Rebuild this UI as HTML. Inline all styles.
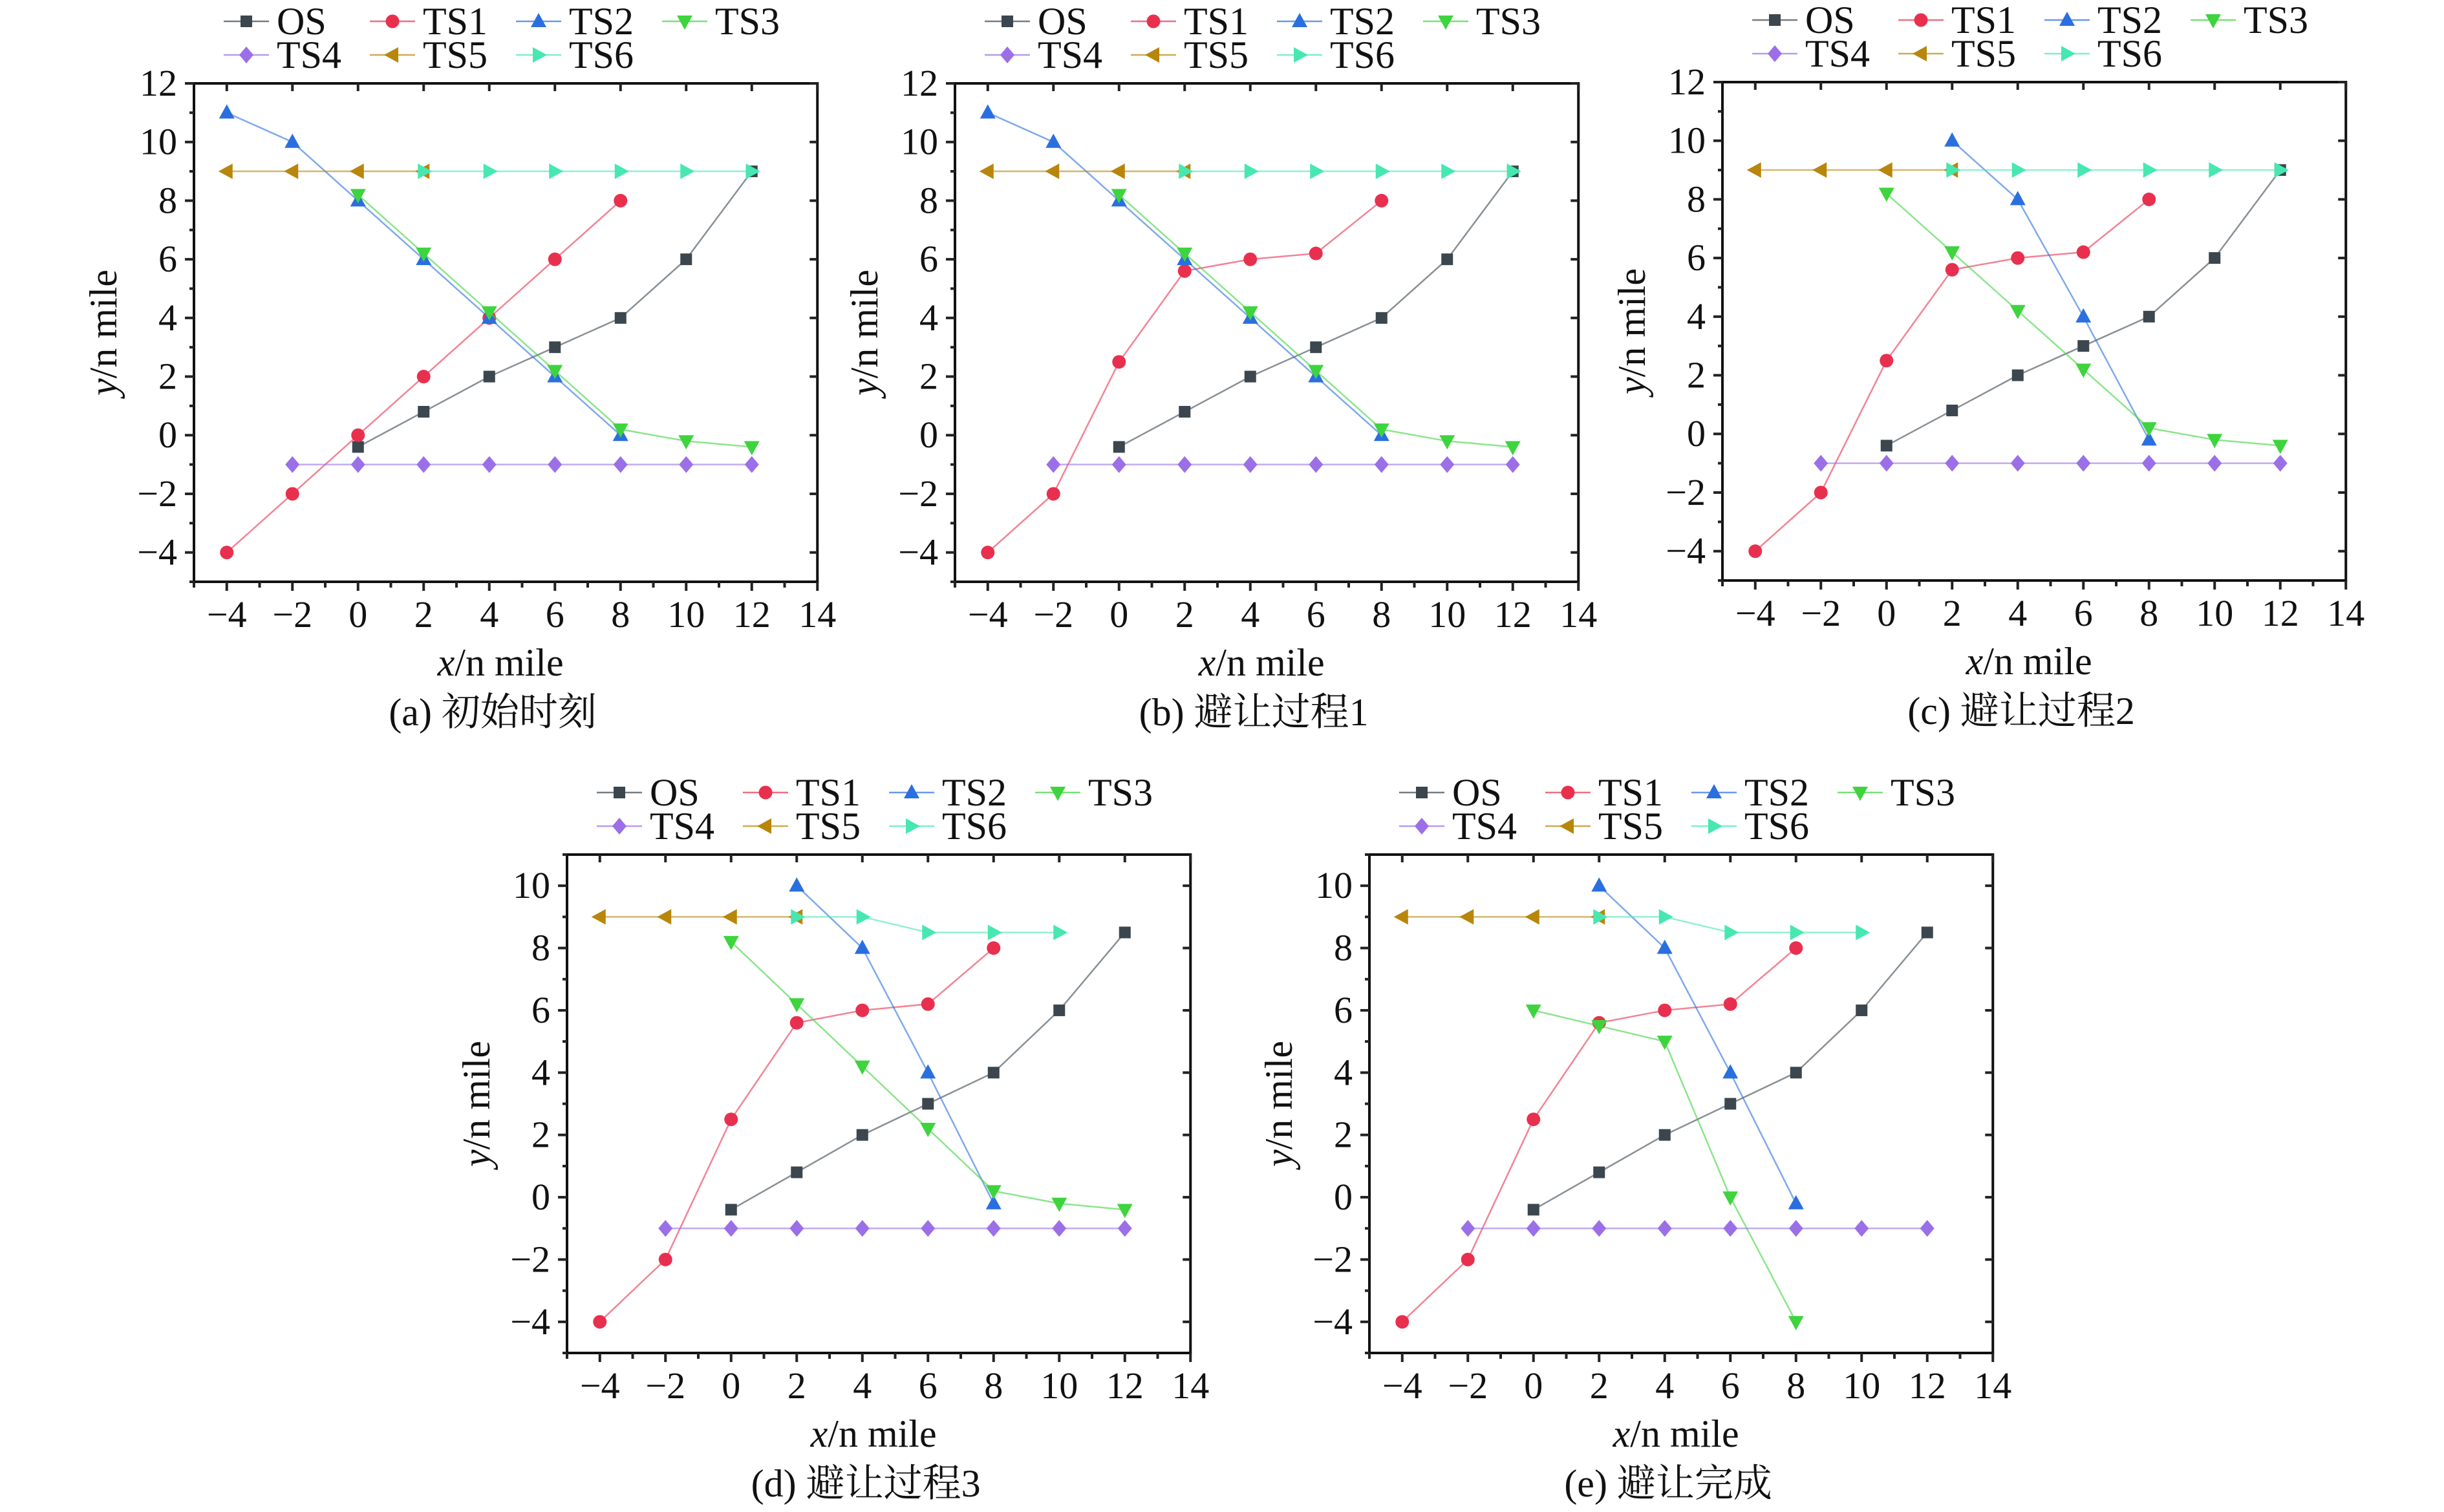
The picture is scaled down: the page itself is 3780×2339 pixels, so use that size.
<!DOCTYPE html>
<html><head><meta charset="utf-8">
<style>
html,body{margin:0;padding:0;background:#fff;}
svg, svg text{font-family:"Liberation Serif","Times New Roman","Noto Serif CJK SC",serif;}
</style></head>
<body>
<svg id="fig" width="3780" height="2334" viewBox="0 0 3780 2334" xmlns="http://www.w3.org/2000/svg" font-family="Liberation Serif, Times New Roman, Noto Serif CJK SC, serif"></svg>
<script>
// ---- data ----
const seriesNames = ["OS","TS1","TS2","TS3","TS4","TS5","TS6"];
const xTicks = [-4,-2,0,2,4,6,8,10,12,14];
const yTicksABC = [-4,-2,0,2,4,6,8,10,12];
const yTicksDE = [-4,-2,0,2,4,6,8,10];

// panel a
const aOS_x=[0,2,4,6,8,10,12], aOS_y=[-0.4,0.8,2,3,4,6,9];
const aTS1_x=[-4,-2,0,2,4,6,8], aTS1_y=[-4,-2,0,2,4,6,8];
const aTS2_x=[-4,-2,0,2,4,6,8], aTS2_y=[11,10,8,6,4,2,0];
const aTS3_x=[0,2,4,6,8,10,12], aTS3_y=[8.2,6.2,4.2,2.2,0.2,-0.2,-0.4];
const aTS4_x=[-2,0,2,4,6,8,10,12], aTS4_y=[-1,-1,-1,-1,-1,-1,-1,-1];
const aTS5_x=[-4,-2,0,2], aTS5_y=[9,9,9,9];
const aTS6_x=[2,4,6,8,10,12], aTS6_y=[9,9,9,9,9,9];
// panel b
const bTS1_y=[-4,-2,2.5,5.6,6,6.2,8];
// panel c
const cTS2_x=[2,4,6,8], cTS2_y=[10,8,4,-0.2];
// panel d
const dOS_y=[-0.4,0.8,2,3,4,6,8.5];
const dTS6_x=[2,4,6,8,10], dTS6_y=[9,9,8.5,8.5,8.5];
// panel e
const eTS3_x=[0,2,4,6,8], eTS3_y=[6,5.5,5,0,-4];

const colors=["#3b464e","#e8304e","#2a6fe0","#3ed43e","#9b6fe8","#b8860b","#46e8b0"];
const markers=["square","circle","up","down","diamond","left","right"];
const FONT="Liberation Serif, Times New Roman, Noto Serif CJK SC, serif";

const panels=[
 {id:"a",caption:"(a) 初始时刻",left:300,top:129,bottom:900,ymin:-5,ymax:12,yt:yTicksABC,
  s:[[aOS_x,aOS_y],[aTS1_x,aTS1_y],[aTS2_x,aTS2_y],[aTS3_x,aTS3_y],[aTS4_x,aTS4_y],[aTS5_x,aTS5_y],[aTS6_x,aTS6_y]]},
 {id:"b",caption:"(b) 避让过程1",left:1477,top:129,bottom:900,ymin:-5,ymax:12,yt:yTicksABC,
  s:[[aOS_x,aOS_y],[aTS1_x,bTS1_y],[aTS2_x,aTS2_y],[aTS3_x,aTS3_y],[aTS4_x,aTS4_y],[aTS5_x,aTS5_y],[aTS6_x,aTS6_y]]},
 {id:"c",caption:"(c) 避让过程2",left:2664,top:127,bottom:898,ymin:-5,ymax:12,yt:yTicksABC,
  s:[[aOS_x,aOS_y],[aTS1_x,bTS1_y],[cTS2_x,cTS2_y],[aTS3_x,aTS3_y],[aTS4_x,aTS4_y],[aTS5_x,aTS5_y],[aTS6_x,aTS6_y]]},
 {id:"d",caption:"(d) 避让过程3",left:877,top:1322,bottom:2093,ymin:-5,ymax:11,yt:yTicksDE,
  s:[[aOS_x,dOS_y],[aTS1_x,bTS1_y],[cTS2_x,cTS2_y],[aTS3_x,aTS3_y],[aTS4_x,aTS4_y],[aTS5_x,aTS5_y],[dTS6_x,dTS6_y]]},
 {id:"e",caption:"(e) 避让完成",left:2118,top:1322,bottom:2093,ymin:-5,ymax:11,yt:yTicksDE,
  s:[[aOS_x,dOS_y],[aTS1_x,bTS1_y],[cTS2_x,cTS2_y],[eTS3_x,eTS3_y],[aTS4_x,aTS4_y],[aTS5_x,aTS5_y],[dTS6_x,dTS6_y]]}
];

const NS="http://www.w3.org/2000/svg";
const svg=document.getElementById("fig");
function mk(tag,attrs,parent){const e=document.createElementNS(NS,tag);for(const k in attrs)e.setAttribute(k,attrs[k]);if(tag==="text")e.setAttribute("font-family",FONT);parent.appendChild(e);return e;}

function marker(type,cx,cy,color,parent){
  let e;
  if(type==="square") e=mk("rect",{x:cx-9,y:cy-9,width:18,height:18,fill:color},parent);
  else if(type==="circle") e=mk("circle",{cx:cx,cy:cy,r:10.5,fill:color},parent);
  else {
    let p;
    if(type==="up") p=[[cx,cy-13],[cx+12,cy+9],[cx-12,cy+9]];
    else if(type==="down") p=[[cx,cy+13],[cx+12,cy-9],[cx-12,cy-9]];
    else if(type==="left") p=[[cx-13,cy],[cx+9,cy-12],[cx+9,cy+12]];
    else if(type==="right") p=[[cx+13,cy],[cx-9,cy-12],[cx-9,cy+12]];
    else p=[[cx,cy-13],[cx+11,cy],[cx,cy+13],[cx-11,cy]];
    e=mk("polygon",{points:p.map(q=>q.join(",")).join(" "),fill:color},parent);
  }
  return e;
}

const XMIN=-5,XMAX=14,UX=50.75;
panels.forEach(P=>{
  const g=mk("g",{},svg);
  
  
  const L=P.left,R=L+UX*(XMAX-XMIN),T=P.top,B=P.bottom;
  const sx=v=>L+(v-XMIN)*(R-L)/(XMAX-XMIN);
  const sy=v=>B-(v-P.ymin)*(B-T)/(P.ymax-P.ymin);
  const fr=mk("rect",{x:L,y:T,width:R-L,height:B-T,fill:"none",stroke:"#111",'stroke-width':4},g);
  
  
  for(let v=XMIN;v<=XMAX;v++){
    const maj=(v%2===0);
    mk("line",{x1:sx(v),x2:sx(v),y1:B,y2:B+(maj?14:9),stroke:"#222",'stroke-width':4},g);
    mk("line",{x1:sx(v),x2:sx(v),y1:T,y2:T+(maj?12:0),stroke:"#222",'stroke-width':4},g);
  }
  xTicks.forEach(v=>{
    const t=mk("text",{x:sx(v),y:B+70,'font-size':58,'text-anchor':'middle',fill:"#111"},g);
    t.textContent=(v<0?"\u2212"+(-v):""+v);
    
    
  });
  for(let v=P.ymin;v<=P.ymax;v++){
    const maj=(v%2===0);
    mk("line",{x1:L,x2:L-(maj?14:7),y1:sy(v),y2:sy(v),stroke:"#222",'stroke-width':4},g);
    mk("line",{x1:R,x2:R-(maj?12:0),y1:sy(v),y2:sy(v),stroke:"#222",'stroke-width':4},g);
  }
  P.yt.forEach(v=>{
    const t=mk("text",{x:L-26,y:sy(v)+19,'font-size':58,'text-anchor':'end',fill:"#111"},g);
    t.textContent=(v<0?"\u2212"+(-v):""+v);
    
    
  });
  const xt=mk("text",{x:(L+R)/2-8,y:B+145,'font-size':60,'text-anchor':'middle',fill:"#111"},g);
  xt.innerHTML='<tspan font-style="italic">x</tspan>/n mile';
  
  
  const yc=(T+B)/2;
  const yx=L-120;
  const yt=mk("text",{x:yx,y:yc,'font-size':60,'text-anchor':'middle',fill:"#111",transform:`rotate(-90 ${yx} ${yc})`},g);
  yt.innerHTML='<tspan font-style="italic">y</tspan>/n mile';
  
  
  const cap=mk("text",{x:(L+R)/2-20,y:B+222,'font-size':60,'text-anchor':'middle',fill:"#111"},g);
  cap.textContent=P.caption;
  
  
  P.s.forEach((s,i)=>{
    const sg=mk("g",{},g);
    
    
    const pts=s[0].map((x,k)=>sx(x)+","+sy(s[1][k])).join(" ");
    mk("polyline",{points:pts,fill:"none",stroke:colors[i],'stroke-opacity':0.6,'stroke-width':2.5},sg);
    s[0].forEach((x,k)=>{
      const m=marker(markers[i],sx(x),sy(s[1][k]),colors[i],sg);
      
      
    });
  });
  const lg=mk("g",{},g);
  
  
  const rowY=[T-96,T-44];
  seriesNames.forEach((n,i)=>{
    const col=i%4,row=Math.floor(i/4);
    const x0=L+46+col*226,y0=rowY[row];
    const eg=mk("g",{},lg);
    
    
    mk("line",{x1:x0,x2:x0+70,y1:y0,y2:y0,stroke:colors[i],'stroke-opacity':0.7,'stroke-width':2.5},eg);
    marker(markers[i],x0+35,y0,colors[i],eg);
    const t=mk("text",{x:x0+82,y:y0+20,'font-size':60,fill:"#111"},eg);
    t.textContent=n;
  });
});
</script>
</body></html>
